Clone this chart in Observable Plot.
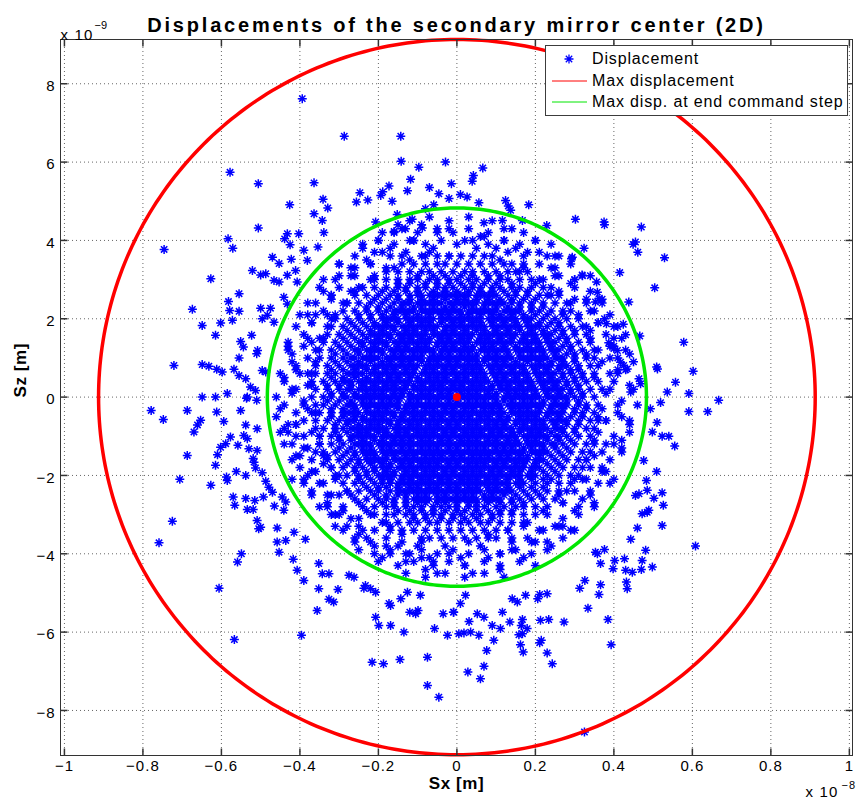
<!DOCTYPE html>
<html><head><meta charset="utf-8">
<script src="https://cdn.jsdelivr.net/npm/d3@7"></script>
<script src="https://cdn.jsdelivr.net/npm/@observablehq/plot@0.6"></script>
<style>
body{margin:0;background:#fff;font-family:"Liberation Sans",Arial,Helvetica,sans-serif;}
#wrap{position:relative;width:858px;height:809px;}
#legend{position:absolute;left:545px;top:45px;width:301px;height:69px;border:1px solid #3c3c3c;background:#fff;font-size:16px;letter-spacing:0.85px;color:#000;}
.item{position:absolute;left:0;width:300px;height:20px;line-height:20px;}
.item svg{position:absolute;left:6px;top:0;}
.item span{position:absolute;left:46px;white-space:nowrap;}
</style></head><body><div id="wrap"></div>
<script>
// Units: 1e-9 m for both Sx and Sz (x axis labelled in 1e-8 m)
const titleText = "Displacements of the secondary mirror center (2D)";
const xLabel = "Sx [m]";
const yLabel = "Sz [m]";
const seriesNames = ["Displacement", "Max displacement", "Max disp. at end command step"];
const xTicks = [-10,-8,-6,-4,-2,0,2,4,6,8,10];
const xTickLabels = ["−1","−0.8","−0.6","−0.4","−0.2","0","0.2","0.4","0.6","0.8","1"];
const yTicks = [-8,-6,-4,-2,0,2,4,6,8];
const yTickLabels = ["−8","−6","−4","−2","0","2","4","6","8"];
const maxDisplacement = 9.13;   // radius, 1e-9 m
const maxDispEndStep = 4.83;    // radius, 1e-9 m
const centerPoint = [{sx: 0, sz: 0}];

// individually readable displacement points (Sx, Sz) in 1e-9 m
const outlierPairs = [
-3.94,7.62, -2.87,6.66, -1.43,6.66, -1.42,6.02, -0.97,5.87, -0.29,6.00, -5.78,5.74, -5.06,5.45,
-3.64,5.47, -1.18,5.56, -1.73,5.39, -1.26,5.27, -0.70,5.35, -0.14,5.45, -2.47,5.22, -2.56,4.98,
-2.27,5.03, -1.89,5.24, -1.94,5.15, -1.65,5.00, -0.46,5.19, -0.20,5.07, -0.59,4.91, -0.80,4.81,
-3.41,5.05, -3.29,4.83, -4.26,4.91, -3.64,4.68, -3.43,4.51, -5.06,4.32, -3.39,4.20, -4.32,4.17,
-4.03,4.17, -2.07,4.47, -1.52,4.66, -1.14,4.54, -1.60,4.23, -1.31,4.30, -0.88,4.32, -7.46,3.77,
-5.83,4.04, -5.71,3.80, -4.39,4.04, -4.25,3.89, -3.90,3.75, -3.54,3.83, -4.70,3.57, -4.53,3.41,
-4.22,3.52, -3.81,3.49, -5.21,3.23, -5.00,3.12, -4.87,3.15, -4.66,2.98, -4.53,2.94, -4.32,3.11,
-4.11,3.23, -4.07,2.94, -6.27,3.02, -5.55,2.64, -5.82,2.44, -5.79,2.21, -5.55,2.19, -6.74,2.24,
-6.49,1.83, -6.02,1.89, -5.72,1.96, -6.15,1.58, -5.00,2.27, -4.75,2.27, -4.96,2.00, -4.66,1.91,
-4.83,2.09, -4.41,2.55, -4.32,2.38, -5.23,1.58, -5.51,1.42, -5.44,1.28, -5.55,1.00, -5.08,1.19,
-5.10,1.11, -7.21,0.81, -6.49,0.83, -6.32,0.79, -6.12,0.71, -5.98,0.64, -5.68,0.71, -5.55,0.55,
-5.38,0.47, -4.96,0.68, -4.87,0.64, -6.49,0.00, -6.15,0.00, -5.85,0.09, -5.34,0.00, -5.26,0.26,
-5.13,0.17,
0.66,5.85, 0.42,5.66, 0.39,5.51, 0.09,5.17, 0.26,5.11, 0.56,4.96, 1.24,5.02, 1.37,4.77,
1.31,4.88, 1.83,4.91, 1.16,4.51, 1.67,4.51, 0.69,4.45, 2.29,4.38, 3.02,4.54, 3.75,4.47,
3.76,4.40, 4.70,4.34, 4.49,3.90, 4.55,3.96, 4.61,3.70, 5.29,3.56, 3.24,3.80, 2.92,3.53,
2.94,3.57, 4.15,3.18, 3.19,3.12, 5.04,2.79, 3.56,2.94, 3.58,2.68, 3.53,2.43, 3.62,2.51,
4.38,2.43, 3.76,2.00, 3.81,1.87, 4.24,1.86, 4.30,1.59, 4.66,1.56, 3.87,1.39, 4.00,1.24,
4.09,1.19, 5.78,1.40, 6.02,0.66, 5.09,0.77, 5.11,0.72, 5.57,0.38, 5.36,0.13, 5.91,0.09,
4.64,0.47, 4.68,0.34, 4.25,0.81, 4.34,0.72, 4.17,0.89, 4.43,0.13,
-7.79,-0.34, -7.48,-0.57, -6.87,-0.34, -6.12,-0.38, -5.94,-0.62, -5.51,-0.34, -5.36,-0.03, -5.10,-0.08,
-6.53,-0.59, -6.61,-0.71, -6.70,-0.89, -5.38,-0.71, -5.43,-0.98, -5.34,-1.06, -5.09,-0.81, -6.87,-1.49,
-5.77,-1.02, -5.89,-1.19, -6.02,-1.28, -6.10,-1.47, -6.15,-1.74, -5.58,-1.23, -5.30,-1.32, -5.09,-1.36,
-5.19,-1.57, -5.17,-1.66, -5.13,-1.81, -5.62,-1.90, -5.38,-2.00, -4.96,-1.93, -4.87,-2.15, -7.06,-2.10,
-6.27,-2.25, -5.85,-2.13, -5.87,-2.04, -5.70,-2.55, -5.38,-2.59, -5.15,-2.64, -4.93,-2.55, -5.66,-2.76,
-5.34,-2.87, -5.19,-2.87, -4.79,-2.30, -4.70,-2.43, -4.65,-2.78, -4.45,-2.55, -4.36,-2.68, -4.41,-2.89,
-7.25,-3.17, -7.59,-3.72, -5.09,-3.15, -5.05,-3.36, -5.00,-3.32, -4.58,-3.34, -4.36,-3.66, -4.58,-3.70,
-4.53,-3.96, -4.15,-3.45, -5.49,-4.00, -5.59,-4.21, -6.06,-4.88, -4.17,-4.14, -4.07,-4.42, -3.90,-4.68,
-3.86,-3.63, -3.52,-4.25, -3.43,-4.51, -3.26,-4.51, -3.52,-4.89, -3.03,-4.91, -3.26,-5.16, -3.14,-5.23,
-3.56,-5.45, -5.67,-6.19, -3.96,-6.08, -2.75,-4.55, -2.62,-4.60, -2.20,-4.89, -2.07,-4.98, -1.73,-5.27,
-1.69,-5.32, -2.07,-5.62, -1.99,-5.83, -1.69,-5.83, -1.35,-6.00, -1.20,-5.49, -1.05,-5.53, -0.99,-5.45,
-0.57,-5.91, -0.35,-5.53, -0.09,-5.49, -0.24,-6.08, -2.16,-6.77, -1.87,-6.81, -1.45,-6.70, -0.75,-6.64,
-0.75,-7.36, -0.46,-7.66, -2.37,-4.88, -2.33,-4.81, -1.43,-5.15, -1.26,-4.98, -0.93,-5.06,
5.19,-0.14, 5.91,-0.37, 6.39,-0.37, 6.67,-0.08, 5.10,-0.65, 5.23,-1.00, 5.40,-1.00, 5.55,-1.25,
4.93,-0.30, 4.98,-0.89, 4.76,-1.62, 4.83,-2.13, 5.09,-1.90, 4.85,-2.38, 5.02,-2.58, 5.23,-2.44,
5.26,-2.76, 4.55,-2.51, 4.64,-2.47, 4.72,-2.98, 4.85,-2.94, 4.89,-2.89, 4.60,-3.34, 5.23,-3.28,
4.43,-3.63, 6.08,-3.80, 4.81,-3.91, 4.72,-4.17, 4.98,-4.34, 4.70,-4.40, 4.47,-4.47, 4.30,-4.42,
4.27,-4.13, 4.32,-4.72, 4.34,-4.89, 4.02,-4.17, 3.98,-4.38, 3.76,-3.89, 3.58,-4.00, 3.66,-4.25,
3.53,-3.96, 3.26,-4.68, 3.13,-4.88, 3.66,-4.79, 3.62,-5.04, 3.34,-5.39, 3.85,-5.68, 3.93,-6.32,
2.73,-5.74, 2.34,-5.68, 2.13,-5.70, 2.30,-5.02, 2.11,-5.04, 2.06,-5.15, 2.30,-6.53, 2.43,-6.81,
2.11,-6.27, 2.15,-6.21, 1.62,-6.32, 1.69,-6.51, 1.58,-6.07, 1.67,-6.04, 0.94,-6.21, 0.76,-6.47,
0.69,-6.87, 0.28,-7.02, 0.60,-7.19, 0.18,-6.02, 0.35,-6.00, 0.56,-6.08, 0.05,-6.04, 1.11,-5.91,
1.35,-5.74, 1.67,-5.68, 1.64,-5.83, 1.79,-5.91, 0.69,-5.62, 0.90,-5.83, 1.16,-5.49, 1.41,-5.15,
1.54,-5.23, 1.75,-5.06, 0.31,-5.73, 0.52,-5.53, 0.09,-5.27, -0.08,-5.49, 0.22,-5.06, 3.25,-8.55
];

// estimated points of the semi-dense band just inside the green circle (tenths of 1e-9 m)
const bandPairsTenths = [
38,1, 42,-1, 45,2, -39,-1, -42,2, -46,0,
40,4, 44,3, -38,3, -44,4, 37,-3, 41,-4, 46,-2, -38,-3, -41,-4, -45,-3,
39,6, 43,7, -37,6, -41,7, -45,6, 38,-6, 44,-7, -39,-6, -43,-7,
37,9, 41,10, 45,9, -38,10, -42,9, 36,-9, 40,-10, 44,-9, -37,-9, -41,-10, -45,-9,
36,12, 40,13, 43,12, -36,12, -39,13, -43,12, 38,-12, 42,-13, -35,-12, -38,-13, -42,-12,
34,15, 38,16, 42,15, -35,15, -39,16, -43,14, 35,-15, 39,-16, -34,-15, -37,-16, -41,-15,
33,18, 36,19, 40,18, -33,18, -37,19, -41,18, 34,-18, 38,-19, -32,-18, -36,-19, -40,-18,
31,21, 35,22, 39,21, -31,21, -34,22, -38,21, 32,-21, 36,-22, 40,-21, -31,-21, -35,-22, -39,-21,
29,24, 33,25, 37,24, -29,24, -32,25, -36,24, 30,-24, 34,-25, -28,-24, -32,-25, -37,-24,
26,27, 30,28, 34,27, -26,27, -30,28, -34,27, 27,-27, 31,-28, 35,-27, -25,-27, -29,-28, -33,-27,
22,30, 26,31, 30,30, 34,31, -22,30, -26,31, -31,30, 23,-30, 27,-31, 31,-30, -22,-30, -27,-31, -32,-30,
17,33, 21,34, 25,33, 29,34, -18,33, -22,34, -26,33, -30,34, 17,-33, 21,-34, 26,-33, 30,-34, -17,-33, -21,-34, -25,-33, -29,-34,
9,36, 13,37, 17,36, 21,37, 25,36, -9,36, -13,37, -17,36, -21,37, -26,36, 10,-36, 14,-37, 18,-36, 23,-37, 27,-36, -9,-36, -14,-37, -18,-36, -22,-37, -26,-36,
-24,39, -20,40, -16,39, -12,40, -8,39, -4,40, 0,39, 4,40, 8,39, 12,40, 16,39, 20,40, 24,39,
-25,-39, -21,-40, -17,-39, -13,-40, -9,-39, -5,-40, -1,-39, 3,-40, 7,-39, 11,-40, 15,-39, 19,-40, 23,-39,
-19,42, -14,43, -10,42, -5,43, -1,42, 3,43, 8,42, 12,43, 17,42,
-20,-42, -15,-43, -11,-42, -6,-43, -2,-42, 2,-43, 7,-42, 11,-43, 16,-42, 20,-43,
-12,45, -7,46, -2,45, 3,46, 9,45,
-13,-45, -8,-46, -3,-45, 2,-46, 7,-45, 12,-46,
35,5, 33,11, 30,17, 27,21, 24,26, 20,29, 15,32, 11,35, 5,38, -2,36, -7,37, -12,35, -16,33, -21,31, -25,28, -28,24, -32,20, -34,15, -36,9, -37,3,
-36,-4, -35,-10, -33,-15, -30,-20, -27,-25, -23,-29, -19,-32, -14,-35, -9,-37, -3,-38, 3,-37, 8,-35, 13,-34, 18,-32, 22,-29, 26,-25, 30,-21, 33,-16, 35,-11, 36,-5,
41,6, 39,13, 36,19, 33,24, 29,29, 24,33, 18,37, 12,40, 6,41, -5,42, -11,40, -17,38, -23,35, -27,31, -32,26, -36,21, -38,15, -41,8, -42,1, -41,-7,
-39,-13, -37,-19, -33,-25, -29,-29, -24,-34, -18,-38, -12,-40, -6,-42, 1,-41, 8,-41, 14,-39, 20,-37, 25,-33, 30,-29, 34,-24, 37,-18, 40,-12, 42,-5,
44,11, 41,18, 37,25, 32,31, 26,36, 20,40, 14,43, -9,44, -16,42, -24,38, -30,34, -35,28, -40,21, -43,13, -44,5, -44,-8,
-42,-16, -39,-22, -35,-28, -31,-33, -26,-37, -19,-41, -8,-44, 4,-45, 11,-44, 17,-41, 24,-38, 29,-34, 35,-28, 39,-22, 42,-14, 44,-6,
39,2, 41,7, 39,10, 40,15, 34,17, 34,22, 30,25, 30,30, 25,31, 23,36, 17,34, 15,38, 10,38, 7,41, 2,40,
-2,43, -6,38, -11,40, -14,36, -19,37, -22,34, -27,33, -27,27, -32,26, -33,21, -37,19, -37,14, -42,11, -38,6, -41,2,
-39,-2, -41,-7, -39,-10, -40,-15, -34,-17, -34,-22, -30,-25, -30,-30, -25,-31, -23,-36, -17,-34, -15,-38, -10,-38, -7,-41, -2,-40,
2,-43, 6,-38, 11,-40, 14,-36, 19,-37, 22,-34, 27,-33, 27,-27, 32,-26, 33,-21, 37,-19, 37,-14, 42,-11, 38,-6, 41,-2,
-44,-12, -36,-14, -38,-20, -42,-21, -33,-28, -37,-25, -28,-33, -31,-30, -21,-38, -25,-35, -13,-42, -17,-40, -5,-45, -9,-41,
-44,-2, -40,6, -46,-5, -43,-9, -30,31, -34,30, -38,24, -20,40, -15,44
];

// estimated points of the saturated core, by row: [Sz, Sx, Sx, ...] in tenths of 1e-9 m
const coreRowsTenths = [
[36,-8,-5,-2,1,4,7],
[34,-14,-11,-8,-5,-3,0,3,6,9,12,14],
[32,-18,-15,-12,-9,-7,-4,-1,2,4,7,10,13,16,18],
[30,-21,-18,-15,-12,-10,-7,-5,-2,0,3,5,8,11,13,16,19,21],
[28,-24,-21,-18,-15,-13,-10,-8,-5,-3,-1,2,4,6,9,11,14,16,19,22,24],
[26,-26,-23,-20,-17,-15,-12,-10,-7,-5,-3,-1,1,3,6,8,10,13,15,18,21,23,26],
[24,-28,-25,-22,-19,-16,-14,-12,-9,-7,-5,-2,0,2,4,7,9,11,14,16,19,22,25,28],
[22,-29,-26,-23,-20,-18,-15,-13,-11,-8,-6,-4,-2,0,3,5,7,9,12,14,16,19,21,24,27,29],
[20,-31,-28,-25,-22,-19,-17,-15,-12,-10,-8,-6,-3,-1,1,3,5,8,10,12,14,17,19,22,25,28,31],
[18,-32,-29,-26,-23,-20,-18,-16,-13,-11,-9,-7,-5,-2,0,2,4,6,9,11,13,15,18,20,23,26,29,32],
[16,-33,-30,-27,-24,-21,-19,-17,-14,-12,-10,-8,-5,-3,-1,1,3,6,8,10,12,14,17,19,22,24,27,30,33],
[14,-34,-31,-28,-25,-22,-20,-18,-15,-13,-11,-9,-7,-4,-2,0,2,5,7,9,11,13,16,18,20,23,25,28,31,34],
[12,-35,-32,-29,-26,-23,-21,-19,-16,-14,-12,-10,-8,-6,-3,-1,1,3,6,8,10,12,15,17,19,21,24,26,29,32,35],
[10,-35,-32,-29,-27,-24,-22,-20,-17,-15,-13,-11,-9,-6,-4,-2,0,2,4,7,9,11,13,16,18,20,22,25,27,30,33,35],
[8,-36,-33,-30,-27,-25,-23,-20,-18,-16,-14,-12,-10,-7,-5,-3,-1,1,3,5,8,10,12,14,16,19,21,23,26,28,31,34,36],
[6,-36,-33,-31,-28,-26,-24,-21,-19,-17,-15,-13,-11,-8,-6,-4,-2,0,2,4,6,9,11,13,15,17,20,22,24,27,29,32,35],
[4,-37,-34,-31,-29,-27,-24,-22,-20,-18,-16,-14,-12,-9,-7,-5,-3,-1,1,3,5,7,10,12,14,16,18,21,23,25,28,30,33,36],
[2,-36,-33,-30,-28,-25,-23,-21,-19,-17,-15,-13,-10,-8,-6,-4,-2,0,2,4,6,8,11,13,15,17,19,22,24,26,29,31,34,37],
[0,-37,-34,-32,-29,-26,-24,-22,-20,-18,-16,-14,-11,-9,-7,-5,-3,-1,1,3,5,7,9,12,14,16,18,20,23,25,27,30,32,35],
[-2,-36,-34,-31,-28,-26,-23,-21,-19,-17,-15,-12,-10,-8,-6,-4,-2,0,2,4,6,8,10,13,15,17,19,21,24,26,28,31,33,36],
[-4,-37,-35,-32,-29,-27,-25,-22,-20,-18,-16,-13,-11,-9,-7,-5,-3,-1,1,3,5,7,9,11,14,16,18,20,23,25,27,30,32,35],
[-6,-36,-33,-30,-28,-26,-23,-21,-19,-17,-14,-12,-10,-8,-6,-4,-2,0,2,4,6,8,10,12,15,17,19,21,24,26,28,31,34,36],
[-8,-36,-34,-31,-29,-26,-24,-22,-20,-18,-15,-13,-11,-9,-7,-5,-3,-1,1,3,5,7,9,11,13,16,18,20,22,25,27,30,33,35],
[-10,-35,-32,-30,-27,-25,-23,-21,-18,-16,-14,-12,-10,-8,-6,-4,-2,0,2,4,6,8,10,12,14,17,19,21,23,26,28,31,34],
[-12,-35,-32,-29,-26,-24,-22,-19,-17,-15,-13,-11,-9,-7,-5,-3,-1,1,3,5,7,9,11,13,15,18,20,22,25,27,30,33,35],
[-14,-34,-31,-28,-26,-23,-21,-18,-16,-14,-12,-10,-8,-6,-4,-2,0,2,4,6,8,10,12,14,16,19,21,23,26,29,32,34],
[-16,-33,-30,-27,-25,-22,-20,-18,-15,-13,-11,-9,-7,-5,-3,-1,1,3,5,7,9,11,13,15,17,20,22,25,28,31,33],
[-18,-32,-29,-26,-24,-21,-19,-17,-14,-12,-10,-8,-6,-4,-2,0,2,4,6,8,10,12,14,16,19,21,24,27,30,32],
[-20,-31,-28,-25,-23,-20,-18,-16,-13,-11,-9,-7,-5,-3,-1,1,3,5,7,9,11,13,15,18,20,23,26,29,31],
[-22,-29,-26,-24,-21,-19,-17,-14,-12,-10,-8,-6,-4,-2,0,2,4,6,8,10,12,15,17,20,23,26,29],
[-24,-28,-25,-22,-20,-17,-15,-13,-11,-9,-7,-5,-3,-1,1,3,5,8,10,12,14,17,20,23,26,28],
[-26,-26,-23,-20,-18,-16,-13,-11,-9,-7,-4,-2,0,2,4,7,9,11,14,16,19,22,25],
[-28,-24,-21,-18,-16,-13,-11,-9,-6,-4,-2,0,3,5,7,10,12,15,17,20,23],
[-30,-21,-18,-16,-13,-11,-8,-6,-4,-1,1,4,6,9,11,14,17,20],
[-32,-18,-15,-12,-10,-7,-5,-2,1,3,6,8,11,14,17],
[-34,-14,-11,-8,-5,-2,1,4,7,10,13],
[-36,-7,-4,-1,2,5,8],
[31,-10,-6,-3,1,4,8,11],
[29,-15,-12,-8,-5,-2,1,4,7,10,14],
[27,-19,-16,-13,-10,-6,-3,0,3,6,9,12,15,18],
[25,-21,-18,-15,-12,-9,-6,-3,0,2,5,8,11,14,17,20],
[23,-23,-20,-17,-14,-11,-9,-6,-3,-1,2,4,7,10,13,16,19,22],
[21,-25,-22,-19,-16,-13,-10,-7,-4,-2,1,3,6,9,11,14,17,20,23],
[19,-27,-24,-21,-18,-15,-12,-9,-7,-4,-1,1,4,6,9,12,15,18,21,24,26],
[17,-28,-25,-22,-19,-16,-13,-11,-8,-6,-3,-1,2,5,7,10,13,16,19,22,25,27],
[15,-29,-26,-23,-20,-17,-14,-12,-9,-7,-4,-2,1,3,6,8,11,14,17,20,23,26,28],
[13,-30,-27,-24,-21,-18,-15,-13,-10,-8,-5,-3,-1,2,4,7,9,12,15,18,21,24,27,29],
[11,-31,-28,-25,-22,-19,-16,-14,-11,-9,-6,-4,-2,1,3,5,8,10,13,16,19,22,25,28,30],
[9,-31,-28,-25,-22,-19,-17,-14,-12,-9,-7,-5,-2,0,3,5,7,10,12,15,18,21,24,27,30],
[7,-32,-29,-26,-23,-21,-18,-16,-13,-11,-8,-6,-3,-1,2,4,6,9,11,14,17,20,23,26,29,31],
[5,-32,-29,-26,-23,-20,-17,-15,-12,-10,-7,-5,-3,0,2,5,7,10,12,15,18,21,24,27,30,32],
[3,-33,-30,-27,-24,-21,-18,-16,-13,-11,-9,-6,-4,-1,1,4,6,9,11,13,16,19,22,25,28,31],
[1,-32,-29,-26,-23,-21,-19,-16,-14,-12,-9,-7,-4,-2,1,3,5,8,10,13,15,17,20,23,26,29,32],
[-1,-33,-30,-27,-24,-22,-19,-17,-15,-12,-10,-7,-5,-2,0,3,5,7,10,12,14,17,19,22,25,28,31],
[-3,-32,-29,-26,-23,-20,-18,-15,-13,-11,-8,-6,-3,-1,2,4,7,9,11,14,16,18,21,24,27,30,33],
[-5,-32,-29,-26,-24,-21,-19,-16,-14,-11,-9,-6,-4,-1,1,3,6,8,11,13,16,18,20,23,26,29,32],
[-7,-31,-28,-25,-22,-20,-17,-15,-12,-10,-7,-5,-2,0,3,5,8,10,12,15,17,20,22,25,28,31],
[-9,-31,-28,-25,-23,-20,-18,-15,-13,-10,-8,-6,-3,-1,2,4,6,9,11,14,16,19,21,24,27,30],
[-11,-30,-27,-24,-21,-19,-16,-14,-12,-9,-7,-4,-2,1,3,5,8,10,13,15,18,20,23,26,29],
[-13,-30,-27,-24,-22,-19,-17,-14,-12,-9,-7,-5,-2,0,3,5,7,10,12,14,17,19,22,25,28],
[-15,-29,-26,-23,-21,-18,-16,-13,-11,-8,-6,-4,-1,1,4,6,8,11,13,16,18,21,24,27],
[-17,-28,-25,-22,-19,-17,-14,-12,-9,-7,-5,-2,0,3,5,7,10,12,15,17,20,23,26],
[-19,-26,-23,-21,-18,-16,-13,-11,-8,-6,-3,-1,2,4,6,9,11,14,16,19,22,25],
[-21,-25,-22,-19,-17,-14,-12,-9,-7,-4,-2,1,3,5,8,10,13,16,19,22,24],
[-23,-23,-20,-18,-15,-12,-10,-7,-5,-2,0,3,5,8,10,13,16,19,22],
[-25,-21,-18,-15,-13,-10,-8,-5,-3,0,2,4,7,9,12,15,18,21],
[-27,-19,-16,-13,-10,-8,-5,-3,0,3,5,8,11,14,17],
[-29,-15,-12,-9,-6,-3,0,2,5,8,11,14],
[-31,-11,-8,-4,-1,2,5,9],
[26,-9,-6,-4,-2,0,2,5,7,9],
[24,-13,-10,-8,-6,-4,-1,1,3,5,8,10,12],
[22,-16,-14,-12,-9,-7,-5,-3,-1,1,4,6,8,10,13,15],
[20,-18,-16,-13,-11,-9,-7,-4,-2,0,2,4,6,9,11,13,15,18],
[18,-21,-19,-17,-14,-12,-10,-8,-6,-3,-1,1,3,5,7,10,12,14,16,19,21],
[16,-22,-20,-18,-15,-13,-11,-9,-6,-4,-2,0,2,4,7,9,11,13,15,18,20,23],
[14,-24,-21,-19,-16,-14,-12,-10,-8,-5,-3,-1,1,3,6,8,10,12,14,17,19,21,24],
[12,-25,-22,-20,-17,-15,-13,-11,-9,-7,-4,-2,0,2,4,7,9,11,13,16,18,20,22,25],
[10,-26,-23,-21,-18,-16,-14,-12,-10,-7,-5,-3,-1,1,3,5,8,10,12,14,17,19,21,23,26],
[8,-26,-24,-21,-19,-17,-15,-13,-11,-8,-6,-4,-2,0,2,4,6,9,11,13,15,17,20,22,24,27],
[6,-27,-25,-22,-20,-18,-16,-14,-12,-9,-7,-5,-3,-1,1,3,5,7,10,12,14,16,18,21,23,25],
[4,-28,-25,-23,-21,-19,-17,-15,-13,-10,-8,-6,-4,-2,0,2,4,6,8,11,13,15,17,19,22,24,26],
[2,-27,-24,-22,-20,-18,-16,-14,-11,-9,-7,-5,-3,-1,1,3,5,7,9,12,14,16,18,20,23,25,27],
[0,-28,-25,-23,-21,-19,-17,-15,-12,-10,-8,-6,-4,-2,0,2,4,6,8,10,13,15,17,19,21,24,26,28],
[-2,-27,-24,-22,-20,-18,-16,-13,-11,-9,-7,-5,-3,-1,1,3,5,7,9,11,14,16,18,20,22,25,27],
[-4,-28,-26,-23,-21,-19,-17,-14,-12,-10,-8,-6,-4,-2,0,2,4,6,8,10,12,15,17,19,21,24,26],
[-6,-27,-24,-22,-20,-18,-15,-13,-11,-9,-7,-5,-3,-1,1,3,5,7,9,11,13,16,18,20,22,25,27],
[-8,-27,-25,-23,-21,-19,-16,-14,-12,-10,-8,-6,-4,-2,0,2,4,6,8,10,12,14,17,19,21,23,26],
[-10,-26,-24,-22,-19,-17,-15,-13,-11,-9,-7,-5,-3,-1,1,3,5,7,9,11,13,15,18,20,22,25],
[-12,-25,-23,-20,-18,-16,-14,-12,-10,-8,-6,-4,-2,0,2,4,6,8,10,12,14,16,19,21,24],
[-14,-24,-22,-19,-17,-15,-13,-11,-9,-7,-5,-3,-1,1,3,5,7,9,11,13,15,17,20,22],
[-16,-23,-21,-19,-16,-14,-12,-10,-8,-6,-4,-2,0,2,4,6,8,10,12,14,16,18,21],
[-18,-21,-18,-15,-13,-11,-9,-7,-5,-3,-1,1,3,5,7,9,11,13,15,17,20],
[-20,-19,-17,-14,-12,-10,-8,-6,-4,-2,0,2,4,6,8,10,12,14,16,19],
[-22,-17,-15,-13,-11,-9,-7,-5,-3,-1,1,3,5,7,9,11,13,16],
[-24,-14,-12,-10,-8,-6,-4,-2,0,2,4,6,9,11,13],
[-26,-10,-8,-5,-3,-1,1,3,5,8,10]
];

const points = [];
for (let i = 0; i < outlierPairs.length; i += 2) points.push({sx: outlierPairs[i], sz: outlierPairs[i + 1]});
for (let i = 0; i < bandPairsTenths.length; i += 2) points.push({sx: bandPairsTenths[i] / 10, sz: bandPairsTenths[i + 1] / 10});
for (const row of coreRowsTenths) for (let j = 1; j < row.length; j++) points.push({sx: row[j] / 10, sz: row[0] / 10});

const circle = (R) => d3.range(0, 361, 1).map(a => ({sx: R * Math.cos(a * Math.PI / 180), sz: R * Math.sin(a * Math.PI / 180)}));

const star = {draw(c, size) {
  const r = Math.sqrt(size / Math.PI), d = r * Math.SQRT1_2;
  c.moveTo(-r, 0); c.lineTo(r, 0); c.moveTo(0, -r); c.lineTo(0, r);
  c.moveTo(-d, -d); c.lineTo(d, d); c.moveTo(-d, d); c.lineTo(d, -d);
}};
const tickL = 7;
const tickUp = {draw(c) { c.moveTo(0, 0); c.lineTo(0, -tickL); }};
const tickDown = {draw(c) { c.moveTo(0, 0); c.lineTo(0, tickL); }};
const tickRight = {draw(c) { c.moveTo(0, 0); c.lineTo(tickL, 0); }};
const tickLeft = {draw(c) { c.moveTo(0, 0); c.lineTo(-tickL, 0); }};
const axisColor = "#333";
const gridStyle = {stroke: "#000", strokeOpacity: 0.6, strokeWidth: 1, strokeDasharray: "1,3"};

const chart = Plot.plot({
  width: 858, height: 809,
  marginLeft: 60, marginRight: 6, marginTop: 39, marginBottom: 54,
  style: {fontFamily: '"Liberation Sans", Arial, Helvetica, sans-serif', fontSize: "14px", background: "#fff", overflow: "visible"},
  x: {domain: [-10.1, 10.08], axis: null},
  y: {domain: [-9.15, 9.13], axis: null},
  marks: [
    Plot.ruleX(xTicks, {x: d => d, ...gridStyle}),
    Plot.ruleY(yTicks, {y: d => d, ...gridStyle}),
    Plot.dot(points, {x: "sx", y: "sz", symbol: star, r: 4.5, fill: "none", stroke: "#0000ff", strokeWidth: 1.5}),
    Plot.line(circle(maxDispEndStep), {x: "sx", y: "sz", stroke: "#00e600", strokeWidth: 3.5}),
    Plot.line(circle(maxDisplacement), {x: "sx", y: "sz", stroke: "#ff0000", strokeWidth: 3.5}),
    Plot.dot(centerPoint, {x: "sx", y: "sz", r: 4, fill: "#ff0000", stroke: "none"}),
    Plot.frame({stroke: axisColor, strokeWidth: 1}),
    Plot.dot(xTicks, {x: d => d, frameAnchor: "bottom", symbol: tickUp, fill: "none", stroke: axisColor}),
    Plot.dot(xTicks, {x: d => d, frameAnchor: "top", symbol: tickDown, fill: "none", stroke: axisColor}),
    Plot.dot(yTicks, {y: d => d, frameAnchor: "left", symbol: tickRight, fill: "none", stroke: axisColor}),
    Plot.dot(yTicks, {y: d => d, frameAnchor: "right", symbol: tickLeft, fill: "none", stroke: axisColor}),
    Plot.text(xTicks, {x: d => d, frameAnchor: "bottom", dy: 15.6, text: (d, i) => xTickLabels[i], fontSize: 15, fill: "#000"}),
    Plot.text(yTicks, {y: d => d, frameAnchor: "left", dx: -5, dy: 2.5, textAnchor: "end", text: (d, i) => yTickLabels[i], fontSize: 15, fill: "#000"}),
    Plot.text([xLabel], {frameAnchor: "bottom", dy: 33.6, text: d => d, fontSize: 17, fontWeight: "bold", fill: "#000"}),
    Plot.text([yLabel], {frameAnchor: "left", dx: -40, rotate: -90, text: d => d, fontSize: 17, fontWeight: "bold", fill: "#000"}),
    Plot.text([titleText], {frameAnchor: "top", dy: -21.4, text: d => d, fontSize: 20, fontWeight: "bold", fill: "#000"}),
    Plot.text(["x 10"], {frameAnchor: "top-left", dy: -10, textAnchor: "start", text: d => d, fontSize: 15, fill: "#000"}),
    Plot.text(["−9"], {frameAnchor: "top-left", dx: 34, dy: -18.5, textAnchor: "start", text: d => d, fontSize: 11, fill: "#000"}),
    Plot.text(["x 10"], {frameAnchor: "bottom-right", dx: -47, dy: 41, textAnchor: "start", text: d => d, fontSize: 15, fill: "#000"}),
    Plot.text(["−8"], {frameAnchor: "bottom-right", dx: -11, dy: 33.5, textAnchor: "start", text: d => d, fontSize: 11, fill: "#000"})
  ]
});

// MATLAB-like wide letter spacing of the texts
for (const t of chart.querySelectorAll("text")) {
  const s = t.textContent;
  if (s === titleText) t.style.letterSpacing = "2.8px";
  else if (s === xLabel || s === yLabel) t.style.letterSpacing = "0.6px";
  else if (s === "x 10") t.style.letterSpacing = "1.2px";
  else if (xTickLabels.includes(s) || yTickLabels.includes(s)) t.style.letterSpacing = "1px";
}

const wrap = document.getElementById("wrap");
wrap.appendChild(chart);

// legend
const legend = document.createElement("div");
legend.id = "legend";
const swatches = [
  `<svg width="35" height="20"><path d="M12.5,10H21.5M17,5.5V14.5M13.8,6.8L20.2,13.2M13.8,13.2L20.2,6.8" stroke="#0000ff" stroke-width="1.3" fill="none"/></svg>`,
  `<svg width="35" height="20"><line x1="0" y1="10" x2="35" y2="10" stroke="#ff0000" stroke-width="1"/></svg>`,
  `<svg width="35" height="20"><line x1="0" y1="10" x2="35" y2="10" stroke="#00e600" stroke-width="1"/></svg>`
];
const tops = [3, 25, 46];
seriesNames.forEach((name, i) => {
  const it = document.createElement("div");
  it.className = "item";
  it.style.top = tops[i] + "px";
  it.innerHTML = swatches[i] + `<span>${name}</span>`;
  legend.appendChild(it);
});
wrap.appendChild(legend);
</script></body></html>
